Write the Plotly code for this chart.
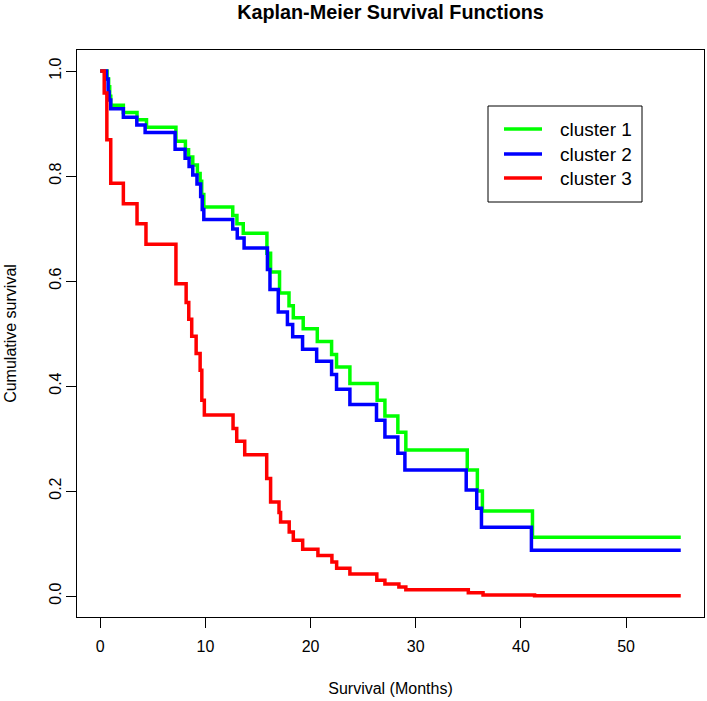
import plotly.graph_objects as go

# ---- data ----
series_names = ["cluster 1", "cluster 2", "cluster 3"]
series_colors = ["#00FF00", "#0000FF", "#FF0000"]

c1_time = [0, 0.65, 0.8, 0.9, 1.0, 2.2, 3.5, 4.4, 7.2, 8.1, 8.4, 8.8, 9.24, 9.5, 9.65, 9.85,
           12.6, 13.0, 13.6, 15.85, 16.2, 17.05, 17.95, 18.36, 19.3, 20.64, 22.0, 22.47, 23.74,
           26.33, 27.07, 28.3, 29.06, 34.9, 35.86, 36.34, 41.1, 55.2]
c1_surv = [1, 0.985, 0.97, 0.952, 0.935, 0.921, 0.907, 0.893, 0.866, 0.850, 0.836, 0.821, 0.805, 0.79, 0.765, 0.741,
           0.725, 0.709, 0.691, 0.653, 0.617, 0.577, 0.553, 0.530, 0.509, 0.485, 0.460, 0.436, 0.405,
           0.373, 0.343, 0.312, 0.278, 0.240, 0.200, 0.162, 0.112, 0.112]

c2_time = [0, 0.6, 0.75, 0.85, 1.0, 2.2, 3.48, 4.27, 7.12, 8.07, 8.45, 8.8, 9.2, 9.55, 9.7, 9.85,
           12.6, 13.03, 13.68, 15.9, 16.14, 16.93, 17.8, 18.3, 19.24, 20.58, 22.0, 22.47, 23.74,
           26.27, 27.07, 28.3, 28.97, 34.8, 35.8, 36.25, 41.0, 55.2]
c2_surv = [1, 0.985, 0.96, 0.945, 0.928, 0.912, 0.897, 0.883, 0.851, 0.834, 0.818, 0.802, 0.785, 0.761, 0.736, 0.717,
           0.699, 0.682, 0.663, 0.622, 0.584, 0.541, 0.517, 0.494, 0.470, 0.447, 0.422, 0.394, 0.365,
           0.335, 0.303, 0.272, 0.240, 0.202, 0.167, 0.131, 0.087, 0.087]

c3_time = [0, 0.38, 0.63, 1.0, 2.2, 3.5, 4.35, 7.2, 8.17, 8.42, 8.7, 9.12, 9.5, 9.66, 9.9,
           12.63, 12.98, 13.74, 15.83, 16.2, 17.0, 17.15, 17.97, 18.36, 19.25, 20.7, 22.03, 22.48,
           23.74, 26.3, 27.07, 28.4, 29.06, 35.0, 36.4, 41.3, 55.2]
c3_surv = [1, 0.958, 0.869, 0.786, 0.747, 0.709, 0.670, 0.595, 0.559, 0.527, 0.495, 0.462, 0.430, 0.373, 0.345,
           0.319, 0.295, 0.269, 0.224, 0.179, 0.159, 0.141, 0.122, 0.106, 0.089, 0.077, 0.065, 0.053,
           0.042, 0.030, 0.023, 0.017, 0.012, 0.006, 0.002, 0.0005, 0.0005]

x_ticks = [0, 10, 20, 30, 40, 50]
y_ticks = [0.0, 0.2, 0.4, 0.6, 0.8, 1.0]
y_tick_labels = ["0.0", "0.2", "0.4", "0.6", "0.8", "1.0"]

FONT = "Liberation Sans, Arial, sans-serif"
W, H = 707, 701
L, R, T, B = 77, 3, 50, 84
PW, PH = W - L - R, H - T - B


def px_x(p):
    return (p - L) / PW


def px_y(p):
    return (H - B - p) / PH


fig = go.Figure()
for name, color, t, s in zip(series_names, series_colors,
                             [c1_time, c2_time, c3_time], [c1_surv, c2_surv, c3_surv]):
    fig.add_trace(go.Scatter(x=t, y=s, mode="lines", name=name, showlegend=False,
                             hoverinfo="skip",
                             line=dict(color=color, width=3.5, shape="hv")))

# legend drawn as box + line samples + labels (in paper coordinates)
shapes = [dict(type="rect", xref="paper", yref="paper", x0=px_x(488), x1=px_x(642),
               y0=px_y(202), y1=px_y(106), line=dict(color="black", width=1), fillcolor="white",
               layer="above")]
annotations = []
row_y = [129, 154, 178]
for name, color, ry in zip(series_names, series_colors, row_y):
    shapes.append(dict(type="line", xref="paper", yref="paper", x0=px_x(504), x1=px_x(542),
                       y0=px_y(ry), y1=px_y(ry), line=dict(color=color, width=3.5), layer="above"))
    annotations.append(dict(text=name, xref="paper", yref="paper", x=px_x(558), y=px_y(ry),
                            xanchor="left", yanchor="middle", showarrow=False,
                            font=dict(size=19, family=FONT, color="black")))

fig.update_layout(
    width=W, height=H,
    margin=dict(l=L, r=R, t=T, b=B),
    paper_bgcolor="white", plot_bgcolor="white",
    font=dict(family=FONT, size=16, color="black"),
    title=dict(text="<b>Kaplan-Meier Survival Functions</b>", x=(L + W - R) / 2 / W, xanchor="center",
               xref="container", yref="container",
               y=1 - 12 / H, yanchor="middle", font=dict(size=19.8, family=FONT)),
    showlegend=False,
    hovermode=False,
    shapes=shapes,
    annotations=annotations,
)
fig.update_xaxes(range=[-2.208, 57.41], tickvals=x_ticks, ticks="outside", ticklen=10,
                 tickcolor="black", showline=True, mirror=True, linecolor="black", linewidth=1,
                 showgrid=False, zeroline=False, ticklabelstandoff=5, automargin=False,
                 title=dict(text="Survival (Months)", standoff=28, font=dict(size=16)))
fig.update_yaxes(range=[-0.04, 1.04], tickvals=y_ticks, ticktext=y_tick_labels, ticks="outside",
                 ticklen=10, tickcolor="black", tickangle=-90, showline=True, mirror=True,
                 linecolor="black", linewidth=1, showgrid=False, zeroline=False, automargin=False,
                 ticklabelstandoff=-1,
                 title=dict(text="Cumulative survival", standoff=25, font=dict(size=16)))

fig.write_html("out.html", config={"displayModeBar": False},
               post_script="document.body.style.margin='0';document.body.style.overflow='hidden';")
